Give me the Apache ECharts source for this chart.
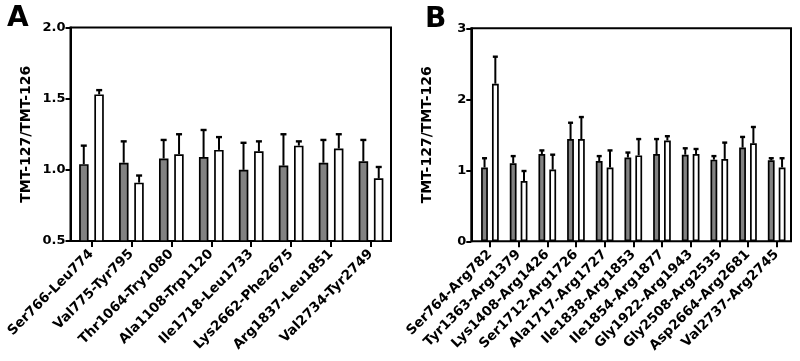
<!DOCTYPE html>
<html>
<head>
<meta charset="utf-8">
<script src="https://cdn.jsdelivr.net/npm/echarts@6/dist/echarts.min.js"></script>
<style>html,body{margin:0;padding:0;background:#fff}#c{width:800px;height:361px}</style>
</head>
<body>
<div id="c"></div>
<script>
// ---- Panel A data ----
const catsA = ['Ser766-Leu774','Val775-Tyr795','Thr1064-Try1080','Ala1108-Trp1120','Ile1718-Leu1733','Lys2662-Phe2675','Arg1837-Leu1851','Val2734-Tyr2749'];
const greyA = [1.04, 1.05, 1.08, 1.09, 1.00, 1.03, 1.05, 1.06];
const greyErrA = [0.13, 0.15, 0.13, 0.19, 0.19, 0.22, 0.16, 0.15];
const whiteA = [1.53, 0.91, 1.11, 1.14, 1.13, 1.17, 1.15, 0.94];
const whiteErrA = [0.03, 0.05, 0.14, 0.09, 0.07, 0.03, 0.10, 0.08];
// ---- Panel B data ----
const catsB = ['Ser764-Arg782','Tyr1363-Arg1379','Lys1408-Arg1426','Ser1712-Arg1726','Ala1717-Arg1727','Ile1838-Arg1853','Ile1854-Arg1877','Gly1922-Arg1943','Gly2508-Arg2535','Asp2664-Arg2681','Val2737-Arg2745'];
const greyB = [1.04, 1.10, 1.23, 1.44, 1.13, 1.18, 1.23, 1.22, 1.15, 1.32, 1.14];
const greyErrB = [0.13, 0.10, 0.05, 0.23, 0.07, 0.07, 0.21, 0.09, 0.05, 0.15, 0.03];
const whiteB = [2.22, 0.85, 1.01, 1.44, 1.04, 1.21, 1.42, 1.23, 1.16, 1.38, 1.04];
const whiteErrB = [0.38, 0.14, 0.21, 0.31, 0.24, 0.23, 0.06, 0.07, 0.23, 0.23, 0.13];
const yAxisA = {min: 0.5, max: 2.0, interval: 0.5};
const yAxisB = {min: 0, max: 3, interval: 1};
const yName = 'TMT-127/TMT-126';
const panelLabels = ['A', 'B'];

const FONT = 'DejaVu Sans';
const GREY = '#828282';

const chart = echarts.init(document.getElementById('c'), null, {renderer: 'canvas'});

function errData(means, errs) {
  return means.map((m, i) => [i, m, +(m + errs[i]).toFixed(3)]);
}
function errSeries(xi, yi, data, offset, cap) {
  return {
    type: 'custom', xAxisIndex: xi, yAxisIndex: yi, z: 5,
    encode: {x: 0, y: [1, 2]},
    data: data,
    renderItem: function (params, api) {
      const b = api.coord([api.value(0), api.value(1)]);
      const t = api.coord([api.value(0), api.value(2)]);
      const x = b[0] + offset;
      return {
        type: 'group',
        children: [
          {type: 'line', shape: {x1: x, y1: b[1], x2: x, y2: t[1]}, style: {stroke: '#000', lineWidth: 2}},
          {type: 'line', shape: {x1: x - cap / 2, y1: t[1], x2: x + cap / 2, y2: t[1]}, style: {stroke: '#000', lineWidth: 2.4}}
        ]
      };
    }
  };
}

const yTickStyle = {fontFamily: FONT, fontWeight: 'bold', fontSize: 13, color: '#000'};
const xTickStyle = {fontFamily: FONT, fontWeight: 'bold', fontSize: 13.5, color: '#000'};

function frameY(gi, r, fmt) {
  return {
    gridIndex: gi, type: 'value', min: r.min, max: r.max, interval: r.interval,
    name: yName, nameLocation: 'middle', nameGap: 37, nameRotate: 90,
    nameTextStyle: {fontFamily: FONT, fontWeight: 'bold', fontSize: 14, color: '#000'},
    axisLine: {show: true, lineStyle: {color: '#000', width: 2}},
    axisTick: {show: true, inside: false, length: 5, lineStyle: {color: '#000', width: 2}},
    axisLabel: Object.assign({margin: 5, formatter: fmt}, yTickStyle),
    splitLine: {show: false}
  };
}
function dataY(gi, r) {
  return {gridIndex: gi, type: 'value', min: r.min, max: r.max, interval: r.interval, show: false, splitLine: {show: false}};
}
function frameX(gi) {
  return {gridIndex: gi, type: 'value', min: 0, max: 1, show: false};
}
function dataX(gi, cats) {
  return {
    gridIndex: gi, type: 'category', data: cats,
    axisLine: {show: false},
    axisTick: {show: true, alignWithLabel: true, length: 6, lineStyle: {color: '#000', width: 2}},
    axisLabel: Object.assign({rotate: 45, margin: 11, interval: 0}, xTickStyle),
    splitLine: {show: false}
  };
}
function barSeries(xi, yi, data, color, w) {
  return {
    type: 'bar', xAxisIndex: xi, yAxisIndex: yi, data: data, barWidth: w, barGap: '60%',
    itemStyle: {color: color, borderColor: '#000', borderWidth: 1.7},
    animation: false, z: 3
  };
}

const option = {
  animation: false,
  backgroundColor: '#fff',
  title: [
    {text: panelLabels[0], left: 2, top: 0, textStyle: {fontFamily: FONT, fontWeight: 'bold', fontSize: 28, color: '#000'}},
    {text: panelLabels[1], left: 420, top: 1, textStyle: {fontFamily: FONT, fontWeight: 'bold', fontSize: 28, color: '#000'}}
  ],
  grid: [
    {left: 70.5, top: 27.5, width: 320.5, height: 213.5, show: true, borderColor: '#000', borderWidth: 2, backgroundColor: 'transparent'},
    {left: 71.5, top: 27.5, width: 319.5, height: 213.5},
    {left: 471.3, top: 28.3, width: 319.7, height: 213, show: true, borderColor: '#000', borderWidth: 2, backgroundColor: 'transparent'},
    {left: 475.6, top: 28.3, width: 315.4, height: 213}
  ],
  xAxis: [frameX(0), dataX(1, catsA), frameX(2), dataX(3, catsB)],
  yAxis: [
    frameY(0, yAxisA, v => v.toFixed(1)),
    dataY(1, yAxisA),
    frameY(2, yAxisB, v => String(v)),
    dataY(3, yAxisB)
  ],
  series: [
    barSeries(1, 1, greyA, GREY, 9.5),
    barSeries(1, 1, whiteA, '#fff', 9.5),
    errSeries(1, 1, errData(greyA, greyErrA), -7.7, 6),
    errSeries(1, 1, errData(whiteA, whiteErrA), 7.7, 6),
    barSeries(3, 3, greyB, GREY, 6.8),
    barSeries(3, 3, whiteB, '#fff', 6.8),
    errSeries(3, 3, errData(greyB, greyErrB), -5.4, 5),
    errSeries(3, 3, errData(whiteB, whiteErrB), 5.4, 5)
  ]
};
chart.setOption(option);
</script>
</body>
</html>
